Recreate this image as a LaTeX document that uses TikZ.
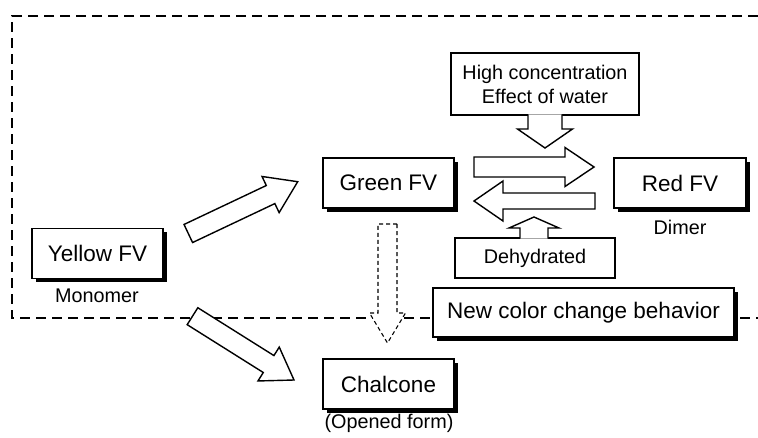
\documentclass[tikz,border=0pt]{standalone}
\usepackage{fontspec}
\setmainfont{Liberation Sans}
\usetikzlibrary{calc,shadows}

\newcommand{\bigtxt}{\fontsize{22.5}{26}\selectfont}
\newcommand{\smalltxt}{\fontsize{19.8}{24}\selectfont}

% fat arrow: [opts]{from}{to}{shaft half width}{head half width}{head length}
\newcommand{\blockarrow}[6][]{%
  \coordinate (ba-n) at ($(#3)!#6pt!(#2)$);
  \filldraw[fill=white,line width=1.4pt,#1] ($(#2)!#4pt!90:(#3)$) -- ($(ba-n)!#4pt!-90:(#2)$)
    -- ($(ba-n)!#5pt!-90:(#2)$) -- (#3) -- ($(ba-n)!#5pt!90:(#2)$)
    -- ($(ba-n)!#4pt!90:(#2)$) -- ($(#2)!#4pt!-90:(#3)$) -- cycle;
}
% same, but open where it leaves a box
\newcommand{\tabarrow}[6][]{%
  \coordinate (ba-n) at ($(#3)!#6pt!(#2)$);
  \fill[white] ($(#2)!#4pt!90:(#3)$) -- ($(ba-n)!#4pt!-90:(#2)$)
    -- ($(ba-n)!#5pt!-90:(#2)$) -- (#3) -- ($(ba-n)!#5pt!90:(#2)$)
    -- ($(ba-n)!#4pt!90:(#2)$) -- ($(#2)!#4pt!-90:(#3)$) -- cycle;
  \draw[line width=1.4pt,#1] ($(#2)!#4pt!90:(#3)$) -- ($(ba-n)!#4pt!-90:(#2)$)
    -- ($(ba-n)!#5pt!-90:(#2)$) -- (#3) -- ($(ba-n)!#5pt!90:(#2)$)
    -- ($(ba-n)!#4pt!90:(#2)$) -- ($(#2)!#4pt!-90:(#3)$);
}

\tikzset{
  fvbox/.style={draw, fill=white, line width=1.4pt, minimum width=131pt, minimum height=50pt,
    font=\bigtxt, drop shadow={shadow xshift=3.5pt, shadow yshift=-3.5pt, fill=black, opacity=1}},
  notebox/.style={draw, fill=white, line width=1.4pt, font=\smalltxt, align=center},
  subtxt/.style={font=\smalltxt},
}

\begin{document}
\begin{tikzpicture}[x=1pt, y=-1pt]
  \useasboundingbox (0,0) rectangle (758,437);

  % region of the new behaviour
  \draw[line width=2.5pt, dash pattern=on 10pt off 6pt] (758,16) -- (12,16) -- (12,318) -- (758,318);

  \node[fvbox] (yellow) at (97.5,253.5) {Yellow FV};
  \node[subtxt] (monomer) at (97,296) {Monomer};
  \node[fvbox] (green) at (388.5,183) {Green FV};
  \node[fvbox, minimum width=132pt] (red) at (680,183) {Red FV};
  \node[subtxt] (dimer) at (680,227) {Dimer};
  \node[fvbox] (chalcone) at (388.5,384) {Chalcone};
  \node[subtxt] (opened) at (389,423) {(Opened form)};

  \node[notebox, minimum width=188pt, minimum height=62pt] (conc) at (545,84)
    {High concentration\\Effect of water};
  \node[notebox, minimum width=160pt, minimum height=40pt] (dehyd) at (535,258) {Dehydrated};
  \node[fvbox, minimum width=301pt, minimum height=49pt] (newcol) at (583.5,312.5)
    {New color change behavior};

  \coordinate (yg-s) at (188.3,233.5);
  \coordinate (yg-e) at (297.7,181.7);
  \coordinate (yc-s) at (192.5,316.2);
  \coordinate (yc-e) at (294,380);
  \coordinate (fw-s) at (474,167);
  \coordinate (fw-e) at (594,167);
  \coordinate (bw-s) at (595,201);
  \coordinate (bw-e) at (474,201);
  \coordinate (hc-s) at (545,114.3);
  \coordinate (hc-e) at (545,148);
  \coordinate (dh-s) at (534,238.7);
  \coordinate (dh-e) at (534,217);
  \coordinate (gc-s) at (387.5,224);
  \coordinate (gc-e) at (387.5,343);

  \blockarrow{yg-s}{yg-e}{10}{20}{30}
  \blockarrow{yc-s}{yc-e}{10}{20}{30}
  \blockarrow{fw-s}{fw-e}{10}{19.5}{29}
  \blockarrow{bw-s}{bw-e}{8}{20}{29}
  \tabarrow{hc-s}{hc-e}{17}{27.5}{19}
  \tabarrow{dh-s}{dh-e}{14}{25}{11}
  \blockarrow[line width=1.1pt, dash pattern=on 4pt off 3pt]{gc-s}{gc-e}{9.5}{18}{30}
\end{tikzpicture}
\end{document}
